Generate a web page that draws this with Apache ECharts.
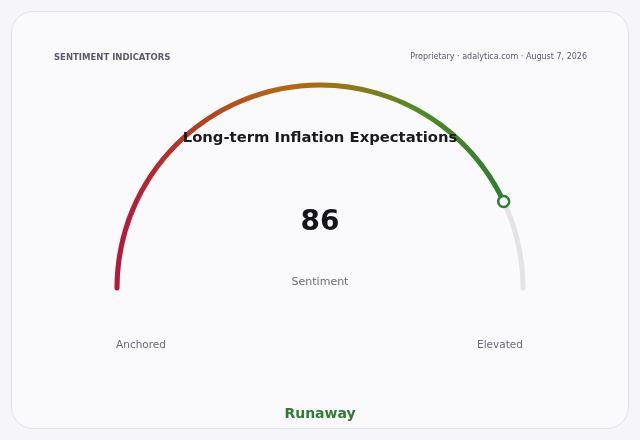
<!DOCTYPE html>
<html>
<head>
<meta charset="utf-8">
<script src="https://cdn.jsdelivr.net/npm/echarts@6/dist/echarts.min.js"></script>
<style>
  html,body{margin:0;padding:0;background:#f5f5fa;width:640px;height:440px;overflow:hidden;}
  #card{position:absolute;left:11px;top:11px;width:616px;height:416px;border:1px solid #e2e2ea;border-radius:22px;background:#fafafd;}
  #chart{position:absolute;left:0;top:0;width:640px;height:440px;}
</style>
</head>
<body>
<div id="card"></div>
<div id="chart"></div>
<script>
const headerLeft = 'SENTIMENT INDICATORS';
const headerRight = 'Proprietary · adalytica.com · August 7, 2026';
const chartTitle = 'Long-term Inflation Expectations';
const gaugeName = ['Sentiment'];
const gaugeValue = [86];
const gaugeMin = 0;
const gaugeMax = 100;
const endLabels = ['Anchored', 'Elevated'];
const regimeLabel = 'Runaway';

const FONT = 'DejaVu Sans';
const chart = echarts.init(document.getElementById('chart'), null, {renderer: 'canvas'});

const option = {
  backgroundColor: 'transparent',
  title: [
    {text: headerLeft, left: 54, top: 53, padding: 0, textStyle: {fontFamily: FONT, fontSize: 8.5, fontWeight: 'bold', color: '#5b5b6e'}},
    {text: headerRight, right: 53, top: 53, padding: 0, textStyle: {fontFamily: FONT, fontSize: 8, fontWeight: 'normal', color: '#5b5b6e'}},
    {text: chartTitle, left: 'center', top: 131, padding: 0, textStyle: {fontFamily: FONT, fontSize: 14.8, fontWeight: 'bold', color: '#1a1a1f'}},
    {text: endLabels[0], left: 141, top: 340, padding: 0, textAlign: 'center', textStyle: {fontFamily: FONT, fontSize: 10.5, fontWeight: 'normal', color: '#6b6b78'}},
    {text: endLabels[1], left: 500, top: 340, padding: 0, textAlign: 'center', textStyle: {fontFamily: FONT, fontSize: 10.5, fontWeight: 'normal', color: '#6b6b78'}},
    {text: regimeLabel, left: 'center', top: 407, padding: 0, textStyle: {fontFamily: FONT, fontSize: 14, fontWeight: 'bold', color: '#2e7d32'}}
  ],
  polar: {center: [320, 288], radius: 203},
  angleAxis: {type: 'value', min: gaugeMin, max: gaugeMin + 2 * (gaugeMax - gaugeMin), startAngle: 180, clockwise: true, show: false},
  radiusAxis: {type: 'value', min: 0, max: 1, show: false},
  series: [
    {
      type: 'gauge',
      center: [320, 288],
      radius: 205.5,
      startAngle: 180,
      endAngle: 0,
      min: gaugeMin,
      max: gaugeMax,
      z: 2,
      axisLine: {roundCap: true, lineStyle: {width: 5, color: [[1, '#e3e3e6']]}},
      progress: {
        show: true, roundCap: true, width: 5,
        itemStyle: {
          color: new echarts.graphic.LinearGradient(0, 0, 1, 0, [
            {offset: 0, color: '#b3173d'},
            {offset: 0.22, color: '#b5401f'},
            {offset: 0.42, color: '#b8650f'},
            {offset: 0.58, color: '#9a7512'},
            {offset: 0.78, color: '#4f8a25'},
            {offset: 1, color: '#2e7d32'}
          ])
        }
      },
      pointer: {show: false},
      anchor: {show: false},
      axisTick: {show: false},
      splitLine: {show: false},
      axisLabel: {show: false},
      title: {offsetCenter: [0, -6], fontFamily: FONT, fontSize: 11, color: '#6b6b78'},
      detail: {offsetCenter: [0, -65], fontFamily: FONT, fontSize: 28, fontWeight: 'bold', color: '#15151a', formatter: '{value}'},
      data: gaugeValue.map((v, i) => ({value: v, name: gaugeName[i]}))
    },
    {
      type: 'scatter',
      coordinateSystem: 'polar',
      z: 5,
      symbol: 'circle',
      symbolSize: 11,
      silent: true,
      itemStyle: {color: '#fafafd', borderColor: '#2e7d32', borderWidth: 2.5, opacity: 1},
      data: gaugeValue.map(v => [1, v])
    }
  ]
};
chart.setOption(option);
</script>
</body>
</html>
